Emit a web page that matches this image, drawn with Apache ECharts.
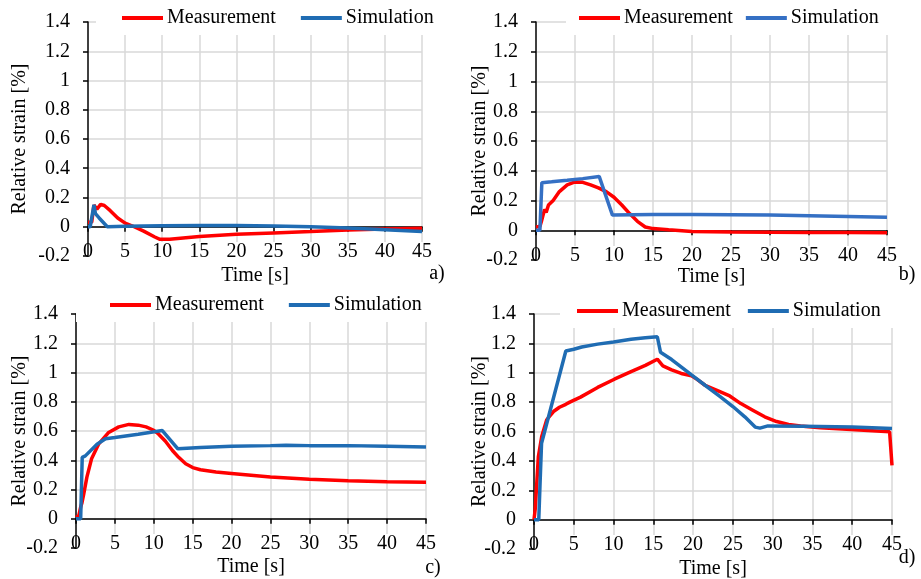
<!DOCTYPE html>
<html>
<head>
<meta charset="utf-8">
<script src="https://cdn.jsdelivr.net/npm/echarts@6/dist/echarts.min.js"></script>
<style>html,body{margin:0;padding:0;background:#fff}#c{width:921px;height:579px}</style>
</head>
<body>
<div id="c"></div>
<script>
// ---- data (time [s], relative strain [%]) ----
var panelLabels = ['a)', 'b)', 'c)', 'd)'];
var seriesNames = ['Measurement', 'Simulation'];
var xTicks = [0, 45, 5];          // min, max, interval
var yTicks = [-0.2, 1.4, 0.2];    // min, max, interval

var measA = [[0,0.03],[0.5,0.03],[0.8,0.148],[1.0,0.158],[1.2,0.12],[1.7,0.153],[2.2,0.145],[3.0,0.11],[4.0,0.06],[5.0,0.025],[6.0,0.005],[7.5,-0.03],[9.0,-0.07],[9.7,-0.086],[11,-0.085],[15,-0.066],[20,-0.052],[25,-0.042],[30,-0.033],[35,-0.023],[40,-0.016],[45,-0.01]];
var simA = [[0,0],[0.3,0],[0.8,0.15],[1.0,0.09],[1.5,0.06],[2.6,0.0],[5,0.003],[10,0.007],[15,0.009],[20,0.008],[25,0.005],[30,0.0],[35,-0.009],[40,-0.02],[45,-0.032]];

var measB = [[0,0.022],[0.5,0.025],[0.7,0.06],[0.9,0.05],[1.1,0.14],[1.3,0.12],[1.6,0.17],[2.2,0.2],[3,0.26],[4,0.305],[5,0.325],[6,0.322],[7,0.305],[8,0.285],[9,0.26],[10,0.222],[11,0.17],[12,0.112],[13,0.06],[14,0.022],[15,0.011],[17,0.003],[20,-0.008],[25,-0.012],[30,-0.014],[35,-0.015],[40,-0.015],[45,-0.016]];
var simB = [[0,0],[0.5,0],[0.75,0.32],[2,0.326],[4,0.336],[6,0.347],[8.1,0.362],[9.8,0.102],[15,0.106],[20,0.106],[25,0.105],[30,0.102],[35,0.098],[40,0.093],[45,0.088]];

var measC = [[0,0.01],[0.35,0.02],[0.6,0.08],[0.77,0.11],[1.0,0.17],[1.4,0.285],[2.0,0.41],[2.9,0.51],[4.2,0.59],[5.5,0.628],[6.8,0.645],[8,0.64],[9,0.628],[10,0.605],[10.6,0.58],[11.5,0.53],[12.4,0.467],[13.2,0.42],[14.1,0.376],[15,0.35],[16,0.335],[18,0.32],[20,0.31],[25,0.285],[30,0.27],[35,0.26],[40,0.253],[45,0.25]];
var simC = [[0,0],[0.6,0],[0.8,0.42],[1.2,0.43],[2.7,0.51],[3.8,0.547],[5,0.555],[8,0.578],[11.1,0.603],[13.1,0.478],[16,0.488],[20,0.496],[25,0.5],[27,0.502],[30,0.5],[35,0.5],[40,0.496],[45,0.49]];

var measD = [[0,0],[0.15,0.07],[0.55,0.43],[0.97,0.566],[1.6,0.68],[2.45,0.736],[3.2,0.765],[4.0,0.785],[4.5,0.8],[5.85,0.834],[8,0.9],[10.1,0.956],[12.2,1.008],[14,1.05],[15.5,1.092],[16.2,1.047],[17.3,1.02],[18.5,0.995],[19.8,0.98],[20.5,0.955],[21.5,0.915],[23,0.88],[24.6,0.842],[26,0.79],[27.5,0.745],[29,0.7],[30.5,0.668],[32,0.648],[33.5,0.638],[36,0.625],[39.3,0.615],[42,0.606],[44.7,0.598],[45,0.37]];
var simD = [[0,0],[0.6,0],[0.75,0.23],[0.85,0.22],[0.95,0.52],[4,1.148],[5,1.16],[6,1.175],[8,1.195],[10,1.21],[12.2,1.228],[14,1.238],[15.5,1.245],[15.9,1.14],[17.3,1.09],[19.8,0.985],[21.5,0.915],[23.4,0.838],[25,0.77],[26.5,0.7],[27.8,0.63],[28.4,0.623],[29.4,0.638],[33.8,0.636],[40,0.63],[45,0.62]];

var measData = [measA, measB, measC, measD];
var simData = [simA, simB, simC, simD];

// ---- layout / style ----
var FONT = 'Liberation Serif, Times New Roman, serif';
var RED = '#ff0000';
var BLUES = ['#1f6cb3', '#3570c4', '#1f6cb3', '#1f6cb3'];
var grids = [
  {left: 88,  top: 22,  width: 334, height: 234},
  {left: 536, top: 22,  width: 351, height: 238},
  {left: 76,  top: 314, width: 350, height: 234},
  {left: 534, top: 314, width: 358, height: 235}
];
var yNameGap = [58, 46, 46, 44];
var xNameGap = [10, 7, 9, 10];
var legendPos = [
  {left: 96,  top: 1,   pad: 26, gap: 25},
  {left: 566, top: 1,   pad: 13, gap: 13},
  {left: 76,  top: 288, pad: 34, gap: 25},
  {left: 560, top: 294, pad: 17, gap: 17}
];
var panelLabelPos = [[437, 274], [907, 275], [433, 568], [907, 558]];

var option = {
  animation: false,
  backgroundColor: '#fff',
  textStyle: {fontFamily: FONT},
  grid: [], xAxis: [], yAxis: [], series: [], legend: [], graphic: []
};

for (var i = 0; i < 4; i++) {
  var g = grids[i];
  option.grid.push({left: g.left, top: g.top, width: g.width, height: g.height, containLabel: false, outerBoundsMode: 'none'});
  // axis line at y = 0 with ticks and vertical grid lines
  option.xAxis.push({
    gridIndex: i, type: 'value', min: xTicks[0], max: xTicks[1], interval: xTicks[2],
    position: 'bottom',
    axisLine: {show: true, onZero: true, onZeroAxisIndex: i, lineStyle: {color: '#000', width: 1.5}},
    axisTick: {show: true, inside: false, length: 5, lineStyle: {color: '#000', width: 1.5}},
    axisLabel: {show: false},
    splitLine: {show: true, showMinLine: false, lineStyle: {color: '#d9d9d9', width: 1.5}}
  });
  // labels at the bottom
  option.xAxis.push({
    gridIndex: i, type: 'value', min: xTicks[0], max: xTicks[1], interval: xTicks[2],
    position: 'bottom', z: 1,
    axisLine: {show: false, onZero: false},
    axisTick: {show: false},
    splitLine: {show: false},
    axisLabel: {
      show: true, margin: -14, color: '#000', fontSize: 20, fontFamily: FONT,
      formatter: function (v) { return v === 0 ? '{z|0}' : '{w|' + v + '}'; },
      rich: {
        z: {fontSize: 20, fontFamily: FONT, color: '#000'},
        w: {fontSize: 20, fontFamily: FONT, color: '#000', backgroundColor: '#fff', padding: [0, 1]}
      }
    },
    name: 'Time [s]', nameLocation: 'middle', nameGap: xNameGap[i], nameMoveOverlap: false,
    nameTextStyle: {fontSize: 20, fontFamily: FONT, color: '#000'}
  });
  option.yAxis.push({
    gridIndex: i, type: 'value', min: yTicks[0], max: yTicks[1], interval: yTicks[2],
    axisLine: {show: true, onZero: false, lineStyle: {color: '#000', width: 1.5}},
    axisTick: {show: true, inside: false, length: 5, lineStyle: {color: '#000', width: 1.5}},
    axisLabel: {
      margin: 18, color: '#000', fontSize: 20, fontFamily: FONT,
      formatter: function (v) { return String(Math.round(v * 10) / 10); }
    },
    splitLine: {show: true, showMinLine: false, lineStyle: {color: '#d9d9d9', width: 1.5}},
    name: 'Relative strain [%]', nameLocation: 'middle', nameGap: yNameGap[i], nameMoveOverlap: false,
    nameRotate: 90,
    nameTextStyle: {fontSize: 20, fontFamily: FONT, color: '#000'}
  });
  option.series.push({
    name: seriesNames[0], type: 'line', xAxisIndex: 2 * i, yAxisIndex: i,
    data: measData[i], showSymbol: false, symbol: 'none', smooth: false, z: 3,
    lineStyle: {color: RED, width: 3.5}, itemStyle: {color: RED}
  });
  option.series.push({
    name: seriesNames[1], type: 'line', xAxisIndex: 2 * i, yAxisIndex: i,
    data: simData[i], showSymbol: false, symbol: 'none', smooth: false, z: 4,
    lineStyle: {color: BLUES[i], width: 3.5}, itemStyle: {color: BLUES[i]}
  });
  var lp = legendPos[i];
  option.legend.push({
    left: lp.left, top: lp.top, orient: 'horizontal',
    padding: [7, lp.pad], backgroundColor: '#fff',
    itemGap: lp.gap, itemWidth: 41, itemHeight: 4,
    data: [
      {name: seriesNames[0], icon: 'rect', itemStyle: {color: RED}},
      {name: seriesNames[1], icon: 'rect', itemStyle: {color: BLUES[i]}}
    ],
    textStyle: {fontSize: 20, fontFamily: FONT, color: '#000', padding: [0, 0, 0, -1]},
    selectedMode: false, z: 10
  });
  option.graphic.push({
    type: 'text', x: panelLabelPos[i][0], y: panelLabelPos[i][1], z: 10,
    style: {text: panelLabels[i], fontSize: 20, fontFamily: FONT, fill: '#000', align: 'center', verticalAlign: 'middle'}
  });
}

var chart = echarts.init(document.getElementById('c'), null, {renderer: 'canvas'});
chart.setOption(option);
</script>
</body>
</html>
